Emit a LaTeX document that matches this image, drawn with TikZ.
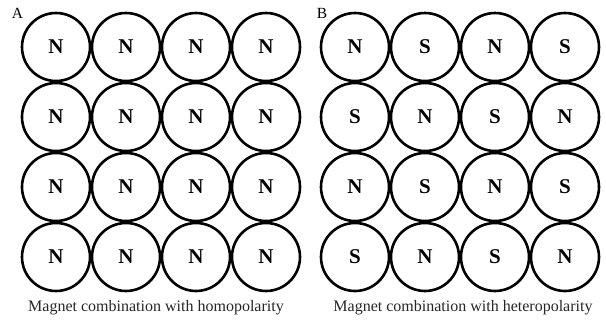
\documentclass[tikz,border=0pt]{standalone}
\usepackage{fontspec}
\setmainfont{Liberation Serif}
\usetikzlibrary{positioning}
\tikzset{
 magnet/.style={draw=black,circle,line width=2.6pt,minimum size=68pt,inner sep=0pt,
   font=\fontsize{21}{21}\selectfont\bfseries},
 paneltag/.style={font=\fontsize{15.5}{18}\selectfont},
 caption/.style={font=\fontsize{16}{18}\selectfont,text=black!85}
}

\begin{document}
\begin{tikzpicture}[x=1pt,y=-1pt]
\useasboundingbox (0,0) rectangle (606,322);
% A: all the same pole
\begin{scope}
 \node[paneltag] (tagA) at (17.5,13.5) {A};
 \foreach \r in {1,...,4}
  \foreach \c in {1,...,4}
   \node[magnet] (a\r\c) at ({56+70*(\c-1)},{47+70*(\r-1)}) {N};
 \node[caption] (capA) at (156,308) {Magnet combination with homopolarity};
\end{scope}
% B: poles alternate
\begin{scope}
 \node[paneltag] (tagB) at (322,13.5) {B};
 \foreach \p [count=\r] in {{N,S,N,S},{S,N,S,N},{N,S,N,S},{S,N,S,N}}
  \foreach \q [count=\c] in \p
   \node[magnet] (b\r\c) at ({355+70*(\c-1)},{47+70*(\r-1)}) {\q};
 \node[caption] (capB) at (463,308) {Magnet combination with heteropolarity};
\end{scope}
\end{tikzpicture}
\end{document}
